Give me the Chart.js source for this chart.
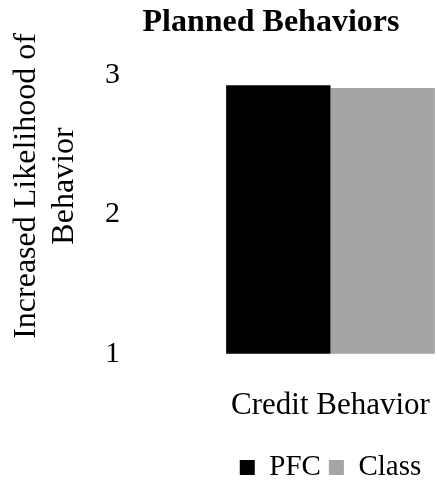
<!DOCTYPE html>
<html>
<head>
<meta charset="utf-8">
<script src="https://cdn.jsdelivr.net/npm/chart.js@4"></script>
<style>
  html, body { margin: 0; padding: 0; background: #fff; }
  #wrap { width: 437px; height: 480px; position: relative; }
</style>
</head>
<body>
<div id="wrap"><canvas id="chart"></canvas></div>
<script>
// Data
var categories = ['Credit Behavior'];
var seriesNames = ['PFC', 'Class'];
var pfcValues = [2.93];
var classValues = [2.91];
var seriesColors = ['#000000', '#a5a5a5'];
var yTitleLines = ['Increased Likelihood of', 'Behavior'];
var yMin = 1, yMax = 3, yStep = 1;

var SERIF = '"Liberation Serif", "Times New Roman", serif';

// y axis title is drawn by hand: it sits higher than the plot centre
var yTitlePlugin = {
    id: 'yTitle',
    afterDraw: function (chart) {
        var ctx = chart.ctx;
        ctx.save();
        ctx.font = '32px ' + SERIF;
        ctx.fillStyle = '#000';
        ctx.textAlign = 'center';
        ctx.textBaseline = 'middle';
        yTitleLines.forEach(function (line, i) {
            ctx.save();
            ctx.translate(27 + i * 38, 186);
            ctx.rotate(-Math.PI / 2);
            ctx.fillText(line, 0, 0);
            ctx.restore();
        });
        ctx.restore();
    }
};

new Chart(document.getElementById('chart'), {
    type: 'bar',
    data: {
        labels: categories,
        datasets: [
            { label: seriesNames[0], data: pfcValues, backgroundColor: seriesColors[0], borderWidth: 0 },
            { label: seriesNames[1], data: classValues, backgroundColor: seriesColors[1], borderWidth: 0 }
        ]
    },
    options: {
        responsive: true,
        maintainAspectRatio: false,
        animation: false,
        layout: { padding: { left: 105, right: 0, top: 0, bottom: -12 } },
        datasets: { bar: { categoryPercentage: 0.98, barPercentage: 1 } },
        plugins: {
            title: {
                display: true,
                text: 'Planned Behaviors',
                color: '#000',
                font: { family: SERIF, size: 32, weight: 'bold' },
                padding: { top: 4, bottom: 33 }
            },
            legend: {
                position: 'bottom',
                fullSize: false,
                labels: {
                    color: '#000',
                    font: { family: SERIF, size: 29 },
                    boxWidth: 15,
                    boxHeight: 15,
                    padding: 8
                }
            },
            tooltip: { enabled: false }
        },
        scales: {
            x: {
                // tick length (not drawn) gives the gap under the bars
                grid: { display: false, drawTicks: true, tickLength: 33 },
                border: { display: false },
                ticks: { color: '#000', font: { family: SERIF, size: 31 }, padding: 0, maxRotation: 0, autoSkip: false },
                afterFit: function (scale) { scale.height += 21; }
            },
            y: {
                min: yMin,
                max: yMax,
                grid: { display: false, drawTicks: true, tickLength: 104 },
                border: { display: false },
                ticks: { stepSize: yStep, color: '#000', font: { family: SERIF, size: 30 }, padding: 0 }
            }
        }
    },
    plugins: [yTitlePlugin]
});
</script>
</body>
</html>
